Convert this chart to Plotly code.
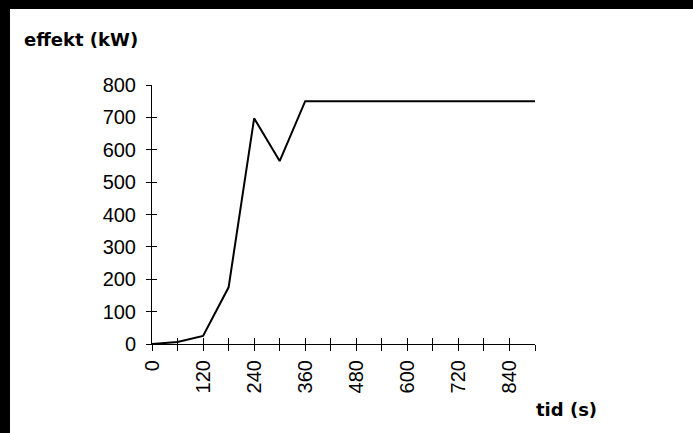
import plotly.graph_objects as go

# Data
tid_s = [0, 60, 120, 180, 240, 300, 360, 420, 480, 540, 600, 660, 720, 780, 840, 900]
effekt_kw = [0, 6, 25, 175, 697, 565, 750, 750, 750, 750, 750, 750, 750, 750, 750, 750]
x_tickvals = [0, 120, 240, 360, 480, 600, 720, 840]
y_tickvals = [0, 100, 200, 300, 400, 500, 600, 700, 800]

W, H = 693, 433
L, T = 152, 85
R, B = W - 535, H - 344
pw, ph = W - L - R, H - T - B

def px_x(p):
    return (p - L) / pw

def px_y(p):
    return (H - B - p) / ph

fig = go.Figure()
fig.add_trace(go.Scatter(x=tid_s, y=effekt_kw, mode="lines",
                         line=dict(color="black", width=2),
                         hoverinfo="skip", showlegend=False))
# duplicate invisible trace to anchor the inside-tick overlay axes
fig.add_trace(go.Scatter(x=tid_s, y=effekt_kw, mode="lines",
                         line=dict(color="rgba(0,0,0,0)", width=0),
                         xaxis="x2", yaxis="y2",
                         hoverinfo="skip", showlegend=False))

tickfont = dict(family="Liberation Sans, Arial, sans-serif", size=20, color="black")
titlefont = dict(family="DejaVu Sans, sans-serif", size=18, color="black", weight="bold")

fig.update_layout(
    width=W, height=H,
    margin=dict(l=L, r=R, t=T, b=B, pad=0),
    paper_bgcolor="white", plot_bgcolor="white",
    showlegend=False,
    title=dict(text="effekt (kW)", font=titlefont, xref="container", yref="container",
               x=24 / W, y=1 - 40 / H, xanchor="left", yanchor="middle"),
    xaxis=dict(range=[0, 900], tickmode="array", tickvals=x_tickvals,
               ticktext=[str(v) for v in x_tickvals],
               minor=dict(dtick=60, tick0=0, ticks="outside", ticklen=6,
                          tickcolor="black", tickwidth=1),
               ticks="outside", ticklen=6, tickcolor="black", tickwidth=1,
               tickangle=-90, tickfont=tickfont, ticklabelstandoff=1,
               showline=True, linecolor="black", linewidth=1,
               showgrid=False, zeroline=False, fixedrange=True),
    yaxis=dict(range=[0, 800], tickmode="array", tickvals=y_tickvals,
               ticks="outside", ticklen=5, tickcolor="black", tickwidth=1,
               tickfont=tickfont, ticklabelstandoff=6,
               showline=True, linecolor="black", linewidth=1,
               showgrid=False, zeroline=False, fixedrange=True),
    xaxis2=dict(range=[0, 900], overlaying="x", anchor="y", side="bottom",
                tickmode="linear", tick0=0, dtick=60,
                ticks="inside", ticklen=6, tickcolor="black", tickwidth=1,
                showticklabels=False, showline=False, showgrid=False,
                zeroline=False, fixedrange=True),
    yaxis2=dict(range=[0, 800], overlaying="y", anchor="x", side="left",
                tickmode="linear", tick0=0, dtick=100,
                ticks="inside", ticklen=5, tickcolor="black", tickwidth=1,
                showticklabels=False, showline=False, showgrid=False,
                zeroline=False, fixedrange=True),
    annotations=[dict(text="tid (s)", xref="paper", yref="paper",
                      x=px_x(534), y=px_y(409), xanchor="left", yanchor="middle",
                      showarrow=False, font=titlefont)],
    shapes=[
        dict(type="rect", xref="paper", yref="paper",
             x0=px_x(0), x1=px_x(W), y0=px_y(9), y1=px_y(0),
             fillcolor="black", line=dict(width=0), layer="above"),
        dict(type="rect", xref="paper", yref="paper",
             x0=px_x(0), x1=px_x(10), y0=px_y(H), y1=px_y(0),
             fillcolor="black", line=dict(width=0), layer="above"),
    ],
)

fig.write_html("out.html", config={"displayModeBar": False},
               post_script="document.body.style.margin='0';"
                           "document.documentElement.style.overflow='hidden';"
                           "document.body.style.background='white';")
